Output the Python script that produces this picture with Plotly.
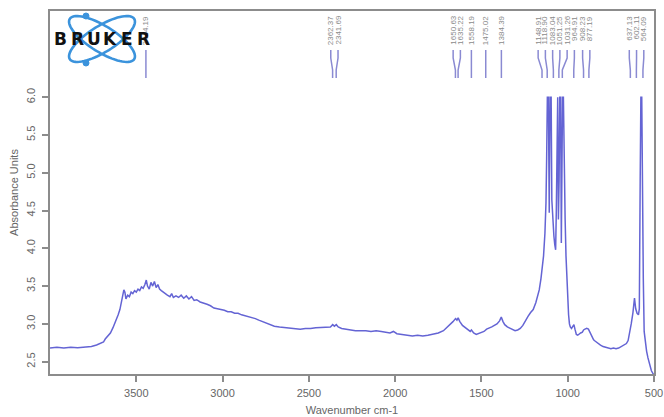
import numpy as np
import plotly.graph_objects as go

# ---------------- data ----------------
wavenumber = [4000, 3960, 3920, 3880, 3840, 3800, 3760, 3730, 3710, 3690, 3680, 3665, 3650, 3635,
              3620, 3605, 3595, 3585, 3578, 3572, 3566, 3560, 3550, 3540, 3530, 3520, 3510, 3500,
              3490, 3480, 3470, 3460, 3450, 3442, 3435, 3425, 3415, 3405, 3395, 3385, 3375, 3365,
              3355, 3345, 3335, 3320, 3305, 3295, 3285, 3270, 3255, 3240, 3225, 3210, 3195, 3180,
              3165, 3150, 3130, 3110, 3090, 3070, 3050, 3030, 3010, 2990, 2970, 2950, 2930, 2910,
              2890, 2870, 2850, 2830, 2810, 2790, 2770, 2750, 2730, 2700, 2670, 2640, 2610, 2580,
              2550, 2520, 2490, 2460, 2430, 2400, 2375, 2362, 2352, 2341, 2330, 2310, 2290, 2260,
              2230, 2200, 2170, 2140, 2110, 2080, 2050, 2030, 2010, 1990, 1960, 1930, 1900, 1870,
              1840, 1810, 1780, 1750, 1720, 1700, 1680, 1665, 1650, 1642, 1635, 1625, 1610, 1595,
              1580, 1565, 1558, 1545, 1530, 1515, 1500, 1485, 1470, 1455, 1440, 1425, 1410, 1395,
              1385, 1375, 1365, 1350, 1335, 1320, 1305, 1290, 1275, 1260, 1245, 1230, 1215, 1200,
              1185, 1175, 1165, 1155, 1148, 1140, 1132, 1126, 1122, 1118, 1112, 1107, 1102, 1096,
              1092, 1085, 1080, 1075, 1070, 1066, 1062, 1058, 1054, 1050, 1046, 1041, 1037, 1034,
              1030, 1025, 1020, 1015, 1010, 1005, 1000, 995, 990, 985, 978, 970, 964, 958,
              950, 942, 934, 925, 915, 908, 900, 890, 880, 870, 860, 850, 840, 825,
              810, 795, 780, 765, 750, 735, 720, 705, 690, 675, 660, 650, 640, 632,
              622, 613, 606, 598, 590, 585, 580, 576, 571, 566, 562, 557, 550, 543,
              535, 525, 515, 505, 500]
absorbance = [2.68, 2.69, 2.68, 2.69, 2.685, 2.69, 2.70, 2.72, 2.74, 2.76, 2.80, 2.84, 2.88, 2.95,
              3.03, 3.12, 3.19, 3.30, 3.40, 3.45, 3.42, 3.33, 3.38, 3.36, 3.42, 3.40, 3.44, 3.42,
              3.46, 3.44, 3.49, 3.47, 3.52, 3.58, 3.50, 3.46, 3.55, 3.50, 3.56, 3.48, 3.52, 3.46,
              3.44, 3.42, 3.40, 3.38, 3.36, 3.40, 3.35, 3.37, 3.35, 3.38, 3.34, 3.37, 3.33, 3.36,
              3.31, 3.32, 3.29, 3.28, 3.26, 3.24, 3.21, 3.20, 3.19, 3.18, 3.16, 3.16, 3.14, 3.14,
              3.12, 3.11, 3.09, 3.08, 3.07, 3.05, 3.03, 3.01, 2.99, 2.97, 2.96, 2.95, 2.94, 2.93,
              2.93, 2.94, 2.94, 2.95, 2.95, 2.96, 2.96, 2.99, 2.97, 2.99, 2.96, 2.94, 2.93, 2.92,
              2.91, 2.91, 2.91, 2.90, 2.91, 2.90, 2.89, 2.88, 2.90, 2.87, 2.86, 2.85, 2.84, 2.85,
              2.84, 2.85, 2.86, 2.88, 2.91, 2.95, 3.00, 3.03, 3.07, 3.05, 3.08, 3.03, 2.98, 2.95,
              2.93, 2.90, 2.92, 2.88, 2.86, 2.87, 2.89, 2.90, 2.93, 2.94, 2.96, 2.98, 3.00, 3.04,
              3.09, 3.03, 2.99, 2.96, 2.94, 2.93, 2.91, 2.92, 2.94, 2.98, 3.05, 3.10, 3.15, 3.19,
              3.28, 3.35, 3.45, 3.60, 3.76, 3.90, 4.20, 4.60, 5.20, 6.00, 6.00, 4.47, 6.00, 6.00,
              4.64, 4.30, 4.16, 4.05, 3.98, 4.50, 6.00, 6.00, 4.38, 4.90, 6.00, 6.00, 4.07, 4.60,
              6.00, 6.00, 4.80, 4.38, 3.90, 3.55, 3.30, 3.12, 3.00, 2.96, 2.94, 2.98, 2.99, 2.93,
              2.86, 2.85, 2.87, 2.88, 2.89, 2.92, 2.93, 2.94, 2.93, 2.88, 2.83, 2.79, 2.77, 2.74,
              2.72, 2.70, 2.69, 2.68, 2.67, 2.68, 2.67, 2.68, 2.70, 2.71, 2.74, 2.78, 2.88, 3.00,
              3.15, 3.34, 3.20, 3.14, 3.12, 3.20, 4.90, 6.00, 6.00, 4.00, 3.60, 2.90, 2.75, 2.64,
              2.55, 2.45, 2.38, 2.34, 2.33]

peak_positions = [3444.19, 2362.37, 2341.69, 1650.63, 1635.22, 1558.19, 1475.02, 1384.39,
                  1148.91, 1118.90, 1083.04, 1051.25, 1031.26, 964.91, 908.23, 877.19,
                  637.13, 602.11, 564.09]
y_ticks = [2.5, 3.0, 3.5, 4.0, 4.5, 5.0, 5.5, 6.0]
x_ticks = [3500, 3000, 2500, 2000, 1500, 1000, 500]

# ---------------- geometry helpers ----------------
W, H = 664, 417
L, R, T, B = 50, 10, 11, 43
PW, PH = W - L - R, H - T - B


def px(xp):
    return (xp - L) / PW


def py(yp):
    return (H - B - yp) / PH


def spread(peaks, gap):
    ps = sorted(peaks, reverse=True)
    clusters = [[p] for p in ps]

    def place(c):
        m = float(np.mean(c))
        n = len(c)
        return [m + gap * ((n - 1) / 2 - i) for i in range(n)]

    changed = True
    while changed:
        changed = False
        for i in range(len(clusters) - 1):
            a, b = place(clusters[i]), place(clusters[i + 1])
            if a[-1] - b[0] < gap:
                clusters[i] = clusters[i] + clusters[i + 1]
                del clusters[i + 1]
                changed = True
                break
    out = []
    for c in clusters:
        out += place(c)
    return ps, out


fig = go.Figure()
fig.add_trace(go.Scatter(x=wavenumber, y=absorbance, mode="lines",
                         line=dict(color="#6464d4", width=1.5), hoverinfo="skip",
                         showlegend=False))

shapes = []
annotations = []

# peak label lines and texts
ps, label_x = spread(peak_positions, 42)
for p, lx in zip(ps, label_x):
    path = (f"M {lx},{py(50)} L {lx},{py(58)} L {p},{py(70)} L {p},{py(78)}")
    shapes.append(dict(type="path", path=path, xref="x", yref="paper",
                       line=dict(color="#8a8ad2", width=1.5)))
    annotations.append(dict(x=lx, y=py(14), xref="x", yref="paper", text=f"{p:.2f}",
                            textangle=-90, showarrow=False, xanchor="center", yanchor="top",
                            font=dict(family="Liberation Sans, Arial", size=8, color="#8a8a8a")))

# Bruker logo (decoration)
cx, cy, a, b = 102, 39, 38, 13
t = np.linspace(0, 2 * np.pi, 73)
for ang in (32, -32):
    th = np.radians(ang)
    xs = cx + a * np.cos(th) * np.cos(t) - b * np.sin(th) * np.sin(t)
    ys = cy + a * np.sin(th) * np.cos(t) + b * np.cos(th) * np.sin(t)
    path = "M " + " L ".join(f"{px(x_):.5f},{py(y_):.5f}" for x_, y_ in zip(xs, ys)) + " Z"
    shapes.append(dict(type="path", path=path, xref="paper", yref="paper",
                       line=dict(color="#3b93dc", width=2.6)))
for (dx, dy) in [(86, 16), (86, 63)]:
    shapes.append(dict(type="circle", xref="paper", yref="paper",
                       x0=px(dx - 3), x1=px(dx + 3), y0=py(dy + 3), y1=py(dy - 3),
                       fillcolor="#3b93dc", line=dict(color="#3b93dc", width=1)))
for i, ch in enumerate("BRUKER"):
    annotations.append(dict(x=px(60.5 + i * 16.5), y=py(39), xref="paper", yref="paper",
                            text=f"<b>{ch}</b>", showarrow=False, xanchor="center",
                            yanchor="middle",
                            font=dict(family="DejaVu Sans", size=17, color="#111111")))

axis_col = "#8c8c8c"
fig.update_layout(
    width=W, height=H,
    margin=dict(l=L, r=R, t=T, b=B, pad=0, autoexpand=False),
    paper_bgcolor="white", plot_bgcolor="white",
    shapes=shapes, annotations=annotations,
    font=dict(family="Liberation Sans, Arial", size=11, color="#666666"),
    xaxis=dict(range=[4000, 500], tickvals=x_ticks, ticktext=[str(v) for v in x_ticks],
               automargin=False,
               showgrid=False, zeroline=False, showline=True, linecolor=axis_col, linewidth=2,
               mirror=True, ticks="outside", ticklen=6, tickwidth=1.5, tickcolor=axis_col,
               tickfont=dict(size=11, color="#666666"), ticklabelstandoff=2,
               title=dict(text="Wavenumber cm-1", standoff=8, font=dict(size=11, color="#666666"))),
    yaxis=dict(range=[2.337, 7.14], tickvals=y_ticks, ticktext=[f"{v:.1f}" for v in y_ticks],
               tickangle=-90, ticklabelstandoff=3, automargin=False,
               showgrid=False, zeroline=False, showline=True, linecolor=axis_col, linewidth=2,
               mirror=True, ticks="outside", ticklen=6, tickwidth=1.5, tickcolor=axis_col,
               tickfont=dict(size=11, color="#666666"),
               title=dict(text="Absorbance Units", standoff=4, font=dict(size=11, color="#666666"))),
)

fig.write_html("out.html")
